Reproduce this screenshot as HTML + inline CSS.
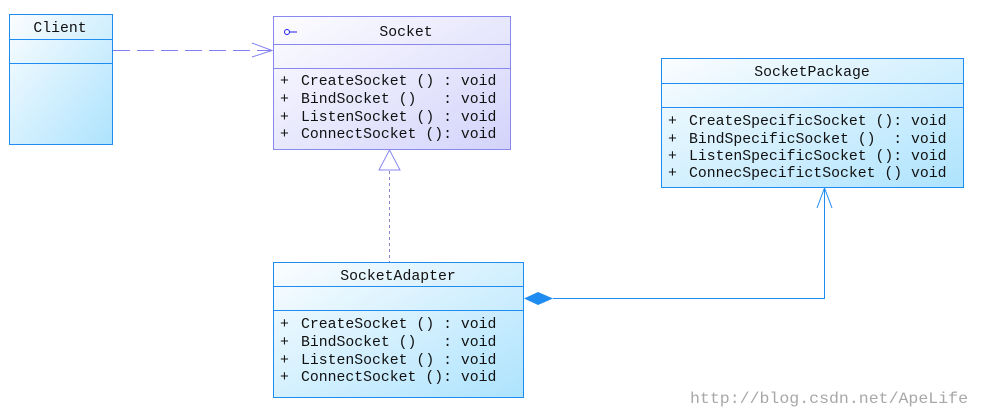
<!DOCTYPE html>
<html><head><style>body{margin:0;background:#fff}svg{display:block}text{font-family:"Liberation Mono",monospace;font-size:14.8px;fill:#111}</style></head>
<body>
<svg width="981" height="417" xmlns="http://www.w3.org/2000/svg">
<defs>
<linearGradient id="gb" x1="0" y1="0" x2="1" y2="1"><stop offset="0" stop-color="#fbfdff"/><stop offset="1" stop-color="#ade3fd"/></linearGradient>
<linearGradient id="gp" x1="0" y1="0" x2="1" y2="1"><stop offset="0" stop-color="#fdfdff"/><stop offset="1" stop-color="#d3d3fb"/></linearGradient>
</defs>
<rect x="9.5" y="14.5" width="103" height="130" fill="url(#gb)" stroke="#1e8cf0"/>
<line x1="9" y1="39.5" x2="112" y2="39.5" stroke="#1e8cf0"/>
<line x1="9" y1="63.5" x2="112" y2="63.5" stroke="#1e8cf0"/>
<text x="60" y="32" text-anchor="middle">Client</text>
<line x1="113" y1="50.5" x2="272" y2="50.5" stroke="#8080f0" stroke-dasharray="17,7"/>
<polyline points="252,43 272,50.5 252,57" fill="none" stroke="#8080f0"/>
<rect x="273.5" y="16.5" width="237" height="133" fill="url(#gp)" stroke="#8888ee"/>
<line x1="273" y1="44.5" x2="510" y2="44.5" stroke="#8888ee"/>
<line x1="273" y1="68.5" x2="510" y2="68.5" stroke="#8888ee"/>
<circle cx="287" cy="32" r="2.5" fill="none" stroke="#2020ee"/><line x1="290" y1="32" x2="297" y2="32" stroke="#2020ee"/>
<text x="406" y="36" text-anchor="middle">Socket</text>
<text x="280" y="85">+</text><text x="301" y="85" xml:space="preserve">CreateSocket () : void</text>
<text x="280" y="103">+</text><text x="301" y="103" xml:space="preserve">BindSocket ()   : void</text>
<text x="280" y="121">+</text><text x="301" y="121" xml:space="preserve">ListenSocket () : void</text>
<text x="280" y="138">+</text><text x="301" y="138" xml:space="preserve">ConnectSocket (): void</text>
<line x1="389.5" y1="171" x2="389.5" y2="262" stroke="#8888cc" stroke-dasharray="3,3"/>
<polygon points="389.5,150 379,170 400,170" fill="#fff" stroke="#8888ee"/>
<rect x="273.5" y="262.5" width="250" height="135" fill="url(#gb)" stroke="#1e8cf0"/>
<line x1="273" y1="286.5" x2="523" y2="286.5" stroke="#1e8cf0"/>
<line x1="273" y1="310.5" x2="523" y2="310.5" stroke="#1e8cf0"/>
<text x="398" y="280" text-anchor="middle">SocketAdapter</text>
<text x="280" y="328">+</text><text x="301" y="328" xml:space="preserve">CreateSocket () : void</text>
<text x="280" y="346">+</text><text x="301" y="346" xml:space="preserve">BindSocket ()   : void</text>
<text x="280" y="364">+</text><text x="301" y="364" xml:space="preserve">ListenSocket () : void</text>
<text x="280" y="381">+</text><text x="301" y="381" xml:space="preserve">ConnectSocket (): void</text>
<polygon points="524,298.5 538,292 553,298.5 538,305" fill="#1e8cf0"/>
<polyline points="553,298.5 824.5,298.5 824.5,188" fill="none" stroke="#1e8cf0"/>
<polyline points="817,208 824.5,188 832,208" fill="none" stroke="#1e8cf0"/>
<rect x="661.5" y="58.5" width="302" height="129" fill="url(#gb)" stroke="#1e8cf0"/>
<line x1="661" y1="83.5" x2="963" y2="83.5" stroke="#1e8cf0"/>
<line x1="661" y1="107.5" x2="963" y2="107.5" stroke="#1e8cf0"/>
<text x="812" y="76" text-anchor="middle">SocketPackage</text>
<text x="668" y="125">+</text><text x="689" y="125" xml:space="preserve">CreateSpecificSocket (): void</text>
<text x="668" y="143">+</text><text x="689" y="143" xml:space="preserve">BindSpecificSocket ()  : void</text>
<text x="668" y="160">+</text><text x="689" y="160" xml:space="preserve">ListenSpecificSocket (): void</text>
<text x="668" y="177">+</text><text x="689" y="177" xml:space="preserve">ConnecSpecifictSocket () void</text>
<text x="690" y="403" textLength="278" lengthAdjust="spacingAndGlyphs" style="font-family:'Liberation Mono',monospace;font-size:16px;fill:#a8a8a8">http://blog.csdn.net/ApeLife</text>
</svg>
</body></html>
